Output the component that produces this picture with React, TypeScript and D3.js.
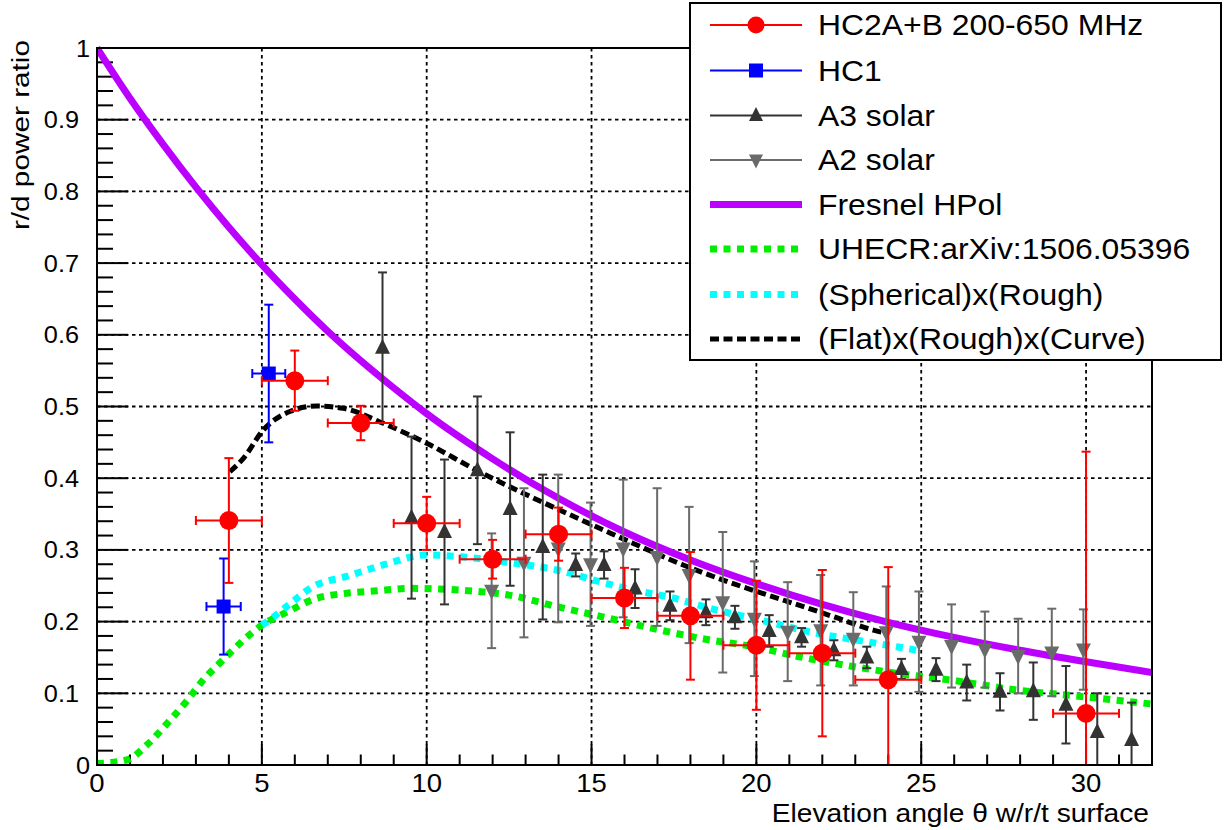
import React from "react";
import * as d3 from "d3";

// ---------- data ----------
const hc2X = [4, 6, 8, 10, 12, 14, 16, 18, 20, 22, 24, 30];
const hc2Y = [0.341, 0.536, 0.477, 0.337, 0.287, 0.322, 0.233, 0.208, 0.167, 0.156, 0.119, 0.072];
const hc2ErrY = [0.087, 0.042, 0.024, 0.037, 0.027, 0.037, 0.042, 0.089, 0.09, 0.116, 0.157, 0.365];
const hc2ErrX = [1, 1, 1, 1, 1, 1, 1, 1, 1, 1, 1, 1];

const hc1X = [3.84, 5.21];
const hc1Y = [0.221, 0.546];
const hc1ErrY = [0.067, 0.096];
const hc1ErrX = [0.52, 0.5];

const a3X = [8.66, 9.54, 10.54, 11.54, 12.53, 13.52, 14.52, 15.38, 16.32, 17.38, 18.47, 19.35, 20.39, 21.37, 22.35, 23.35, 24.4, 25.45, 26.38, 27.39, 28.4, 29.39, 30.34, 31.38];
const a3Y = [0.582, 0.345, 0.325, 0.411, 0.357, 0.304, 0.279, 0.279, 0.246, 0.222, 0.213, 0.206, 0.187, 0.178, 0.16, 0.15, 0.134, 0.133, 0.115, 0.102, 0.103, 0.084, 0.046, 0.035];
const a3ErrY = [0.105, 0.113, 0.101, 0.103, 0.107, 0.101, 0.016, 0.019, 0.027, 0.02, 0.018, 0.016, 0.022, 0.013, 0.014, 0.015, 0.014, 0.016, 0.025, 0.026, 0.04, 0.054, 0.054, 0.052];

const a2X = [11.97, 12.95, 13.99, 14.97, 15.96, 16.99, 17.96, 18.98, 19.94, 20.95, 21.95, 22.94, 23.94, 24.93, 25.92, 26.93, 27.94, 28.96, 29.92];
const a2Y = [0.243, 0.282, 0.302, 0.28, 0.302, 0.29, 0.265, 0.227, 0.204, 0.186, 0.188, 0.176, 0.185, 0.172, 0.166, 0.161, 0.152, 0.157, 0.161];
const a2ErrY = [0.08, 0.104, 0.103, 0.086, 0.096, 0.096, 0.095, 0.098, 0.08, 0.069, 0.077, 0.065, 0.064, 0.07, 0.058, 0.053, 0.052, 0.061, 0.056];

const fresnelX = [0, 1, 2, 3, 4, 5, 6, 7, 8, 9, 10, 12, 14, 16, 18, 20, 22, 24, 26, 28, 30, 32];
const fresnelY = [1, 0.93, 0.866, 0.806, 0.75, 0.698, 0.65, 0.605, 0.564, 0.526, 0.49, 0.427, 0.372, 0.325, 0.286, 0.253, 0.224, 0.199, 0.178, 0.16, 0.144, 0.129];

const uhecrX = [0, 0.9, 1.56, 2.13, 2.7, 3.22, 3.81, 4.44, 5.0, 5.8, 6.56, 7.57, 8.5, 9.5, 11.0, 12.73, 13.94, 15.3, 17.1, 18.3, 19.9, 21.3, 22.84, 24.25, 25.87, 27.89, 29.92, 32];
const uhecrY = [0.002, 0.007, 0.03, 0.058, 0.088, 0.1185, 0.146, 0.174, 0.195, 0.214, 0.231, 0.2395, 0.243, 0.2464, 0.244, 0.235, 0.221, 0.207, 0.188, 0.1767, 0.165, 0.151, 0.138, 0.128, 0.1186, 0.1046, 0.0953, 0.085];

const sphX = [5.0, 5.3, 5.75, 6.56, 7.57, 8.68, 10.0, 11.0, 12.73, 13.94, 15.3, 16.27, 17.28, 18.8, 20.31, 21.83, 23.34, 24.25, 25.0];
const sphY = [0.195, 0.2046, 0.221, 0.249, 0.263, 0.279, 0.293, 0.2905, 0.281, 0.272, 0.255, 0.244, 0.235, 0.216, 0.2, 0.1837, 0.172, 0.165, 0.159];

const flatX = [4.03, 4.44, 5.04, 5.85, 6.66, 7.47, 8.68, 10.0, 11.52, 12.93, 14.25, 15.4, 16.27, 17.78, 19.3, 20.82, 22.33, 23.55, 24.0];
const flatY = [0.409, 0.4277, 0.467, 0.493, 0.5007, 0.4975, 0.4766, 0.4487, 0.411, 0.379, 0.351, 0.327, 0.309, 0.279, 0.253, 0.23, 0.207, 0.188, 0.183];

const xMajorTicks = [0, 5, 10, 15, 20, 25, 30];
const yMajorTicks = [0, 0.1, 0.2, 0.3, 0.4, 0.5, 0.6, 0.7, 0.8, 0.9, 1];
const yTickLabels = ["0", "0.1", "0.2", "0.3", "0.4", "0.5", "0.6", "0.7", "0.8", "0.9", "1"];

const legendLabels = [
  "HC2A+B 200-650 MHz",
  "HC1",
  "A3 solar",
  "A2 solar",
  "Fresnel HPol",
  "UHECR:arXiv:1506.05396",
  "(Spherical)x(Rough)",
  "(Flat)x(Rough)x(Curve)",
];

// ---------- layout ----------
const W = 1225, H = 830;
const L = 97, R = 1152, T = 48, B = 765;
const FONT = "'Liberation Sans', Arial, Helvetica, sans-serif";
const SX = 1.1;

const C_RED = "#ff0000";
const C_BLUE = "#0000ff";
const C_A3 = "#333333";
const C_A2 = "#6a6a6a";
const C_PURPLE = "#bb00ff";
const C_GREEN = "#00ee00";
const C_CYAN = "#00ffff";

const x = d3.scaleLinear().domain([0, 32]).range([L, R]);
const y = d3.scaleLinear().domain([0, 1]).range([B, T]);

const lineGen = (xs: number[], ys: number[]) =>
  d3.line<number>().x((_, i) => x(xs[i])).y((_, i) => y(ys[i])).curve(d3.curveMonotoneX)(xs) || "";

const triUp = (cx: number, cy: number, s: number) =>
  `M${cx},${cy - s * 0.6}L${cx + s / 2},${cy + s * 0.4}L${cx - s / 2},${cy + s * 0.4}Z`;
const triDown = (cx: number, cy: number, s: number) =>
  `M${cx},${cy + s * 0.6}L${cx + s / 2},${cy - s * 0.4}L${cx - s / 2},${cy - s * 0.4}Z`;

function ErrBars({ xs, ys, ey, ex, color, cap }: { xs: number[]; ys: number[]; ey: number[]; ex?: number[]; color: string; cap: number }) {
  return (
    <g stroke={color} strokeWidth={2} fill="none">
      {xs.map((xv, i) => {
        const px = x(xv);
        const top = y(ys[i] + ey[i]);
        const bot = y(Math.max(0, ys[i] - ey[i]));
        const botClipped = ys[i] - ey[i] < 0;
        return (
          <g key={i}>
            <line x1={px} x2={px} y1={top} y2={bot} />
            <line x1={px - cap} x2={px + cap} y1={top} y2={top} />
            {!botClipped && <line x1={px - cap} x2={px + cap} y1={bot} y2={bot} />}
            {ex && (
              <>
                <line x1={x(xv - ex[i])} x2={x(xv + ex[i])} y1={y(ys[i])} y2={y(ys[i])} />
                <line x1={x(xv - ex[i])} x2={x(xv - ex[i])} y1={y(ys[i]) - cap} y2={y(ys[i]) + cap} />
                <line x1={x(xv + ex[i])} x2={x(xv + ex[i])} y1={y(ys[i]) - cap} y2={y(ys[i]) + cap} />
              </>
            )}
          </g>
        );
      })}
    </g>
  );
}

function Txt({ px, py, anchor, size, children, rotate, sx }: any) {
  const s = sx ?? SX;
  const tr = rotate ? `translate(${px},${py}) rotate(-90) scale(${s},1)` : `translate(${px},${py}) scale(${s},1)`;
  return (
    <text transform={tr} textAnchor={anchor} fontSize={size} fontFamily={FONT} fill="#000">
      {children}
    </text>
  );
}

export default function App() {
  const xMinor = d3.range(0, 33, 1);
  const yMinor = d3.range(0, 101, 2).map((v) => v / 100);
  const legRowY = [25, 70.5, 115.5, 160, 204.5, 249, 294.5, 339];
  const legLineX1 = 710, legLineX2 = 802, legMarkX = 756, legTextX = 818;

  return (
    <svg width={W} height={H} style={{ position: "absolute", left: 0, top: 0, background: "#fff" }}>
      <defs>
        <clipPath id="plotClip">
          <rect x={L} y={T - 2} width={R - L} height={B - T + 2} />
        </clipPath>
      </defs>
      <rect x={0} y={0} width={W} height={H} fill="#fff" />

      {/* grid */}
      <g stroke="#000" strokeWidth={1.8} strokeDasharray="3.5,3.5">
        {xMajorTicks.filter((v) => v > 0).map((v) => (
          <line key={"gx" + v} x1={x(v)} x2={x(v)} y1={T} y2={B} />
        ))}
        {yMajorTicks.filter((v) => v > 0 && v < 1).map((v) => (
          <line key={"gy" + v} x1={L} x2={R} y1={y(v)} y2={y(v)} />
        ))}
      </g>

      {/* ticks */}
      <g stroke="#000" strokeWidth={2}>
        {yMinor.map((v, i) => {
          const major = Math.abs(v * 10 - Math.round(v * 10)) < 1e-6;
          return <line key={"ty" + i} x1={L} x2={L + (major ? 31 : 16)} y1={y(v)} y2={y(v)} />;
        })}
        {xMinor.map((v) => {
          const major = v % 5 === 0;
          return <line key={"tx" + v} x1={x(v)} x2={x(v)} y1={B} y2={B - (major ? 21 : 10.5)} />;
        })}
      </g>

      {/* curves */}
      <g clipPath="url(#plotClip)" fill="none">
        <path d={lineGen(fresnelX, fresnelY)} stroke={C_PURPLE} strokeWidth={7} />
        <path d={lineGen(uhecrX, uhecrY)} stroke={C_GREEN} strokeWidth={7} strokeDasharray="7,6.5" />
        <path d={lineGen(sphX, sphY)} stroke={C_CYAN} strokeWidth={7} strokeDasharray="7,6.5" />
        <path d={lineGen(flatX, flatY)} stroke="#000" strokeWidth={5} strokeDasharray="9,4.5" />
      </g>

      {/* data */}
      <g clipPath="url(#plotClip)">
        <ErrBars xs={a2X} ys={a2Y} ey={a2ErrY} color={C_A2} cap={4.5} />
        {a2X.map((v, i) => (
          <path key={"a2" + i} d={triDown(x(v), y(a2Y[i]), 15)} fill={C_A2} />
        ))}
        <ErrBars xs={a3X} ys={a3Y} ey={a3ErrY} color={C_A3} cap={4.5} />
        {a3X.map((v, i) => (
          <path key={"a3" + i} d={triUp(x(v), y(a3Y[i]), 15)} fill={C_A3} />
        ))}
        <ErrBars xs={hc1X} ys={hc1Y} ey={hc1ErrY} ex={hc1ErrX} color={C_BLUE} cap={4.5} />
        {hc1X.map((v, i) => (
          <rect key={"hc1" + i} x={x(v) - 7} y={y(hc1Y[i]) - 7} width={14} height={14} fill={C_BLUE} />
        ))}
        <ErrBars xs={hc2X} ys={hc2Y} ey={hc2ErrY} ex={hc2ErrX} color={C_RED} cap={4.5} />
        {hc2X.map((v, i) => (
          <circle key={"hc2" + i} cx={x(v)} cy={y(hc2Y[i])} r={9.5} fill={C_RED} />
        ))}
      </g>

      {/* frame */}
      <rect x={L} y={T} width={R - L} height={B - T} fill="none" stroke="#000" strokeWidth={2} />

      {/* axis labels */}
      {yMajorTicks.map((v, i) => {
        const isInt = yTickLabels[i].length === 1;
        return (
          <Txt key={"yl" + i} px={isInt ? 90 : 79} py={y(v) + 8.5} anchor="end" size={23}>
            {yTickLabels[i]}
          </Txt>
        );
      })}
      {xMajorTicks.map((v) => (
        <Txt key={"xl" + v} px={x(v)} py={792} anchor="middle" size={25}>
          {String(v)}
        </Txt>
      ))}
      <Txt px={1149} py={822} anchor="end" size={25.6}>
        Elevation angle θ w/r/t surface
      </Txt>
      <Txt px={29} py={40} anchor="end" size={24} sx={1.24} rotate>
        r/d power ratio
      </Txt>

      {/* legend */}
      <rect x={690} y={3} width={531} height={357} fill="#fff" stroke="#000" strokeWidth={2} />
      {legendLabels.map((lab, i) => {
        const cy = legRowY[i];
        let sym: React.ReactNode = null;
        if (i === 0)
          sym = (
            <>
              <line x1={legLineX1} x2={legLineX2} y1={cy} y2={cy} stroke={C_RED} strokeWidth={2} />
              <circle cx={legMarkX} cy={cy} r={8.5} fill={C_RED} />
            </>
          );
        else if (i === 1)
          sym = (
            <>
              <line x1={legLineX1} x2={legLineX2} y1={cy} y2={cy} stroke={C_BLUE} strokeWidth={2} />
              <rect x={legMarkX - 7} y={cy - 7} width={14} height={14} fill={C_BLUE} />
            </>
          );
        else if (i === 2)
          sym = (
            <>
              <line x1={legLineX1} x2={legLineX2} y1={cy} y2={cy} stroke={C_A3} strokeWidth={2} />
              <path d={triUp(legMarkX, cy, 14)} fill={C_A3} />
            </>
          );
        else if (i === 3)
          sym = (
            <>
              <line x1={legLineX1} x2={legLineX2} y1={cy} y2={cy} stroke={C_A2} strokeWidth={2} />
              <path d={triDown(legMarkX, cy, 14)} fill={C_A2} />
            </>
          );
        else if (i === 4)
          sym = <line x1={legLineX1} x2={legLineX2} y1={cy} y2={cy} stroke={C_PURPLE} strokeWidth={7} />;
        else if (i === 5)
          sym = <line x1={legLineX1} x2={legLineX2} y1={cy} y2={cy} stroke={C_GREEN} strokeWidth={7} strokeDasharray="7,6.5" />;
        else if (i === 6)
          sym = <line x1={legLineX1} x2={legLineX2} y1={cy} y2={cy} stroke={C_CYAN} strokeWidth={7} strokeDasharray="7,6.5" />;
        else
          sym = <line x1={legLineX1} x2={legLineX2} y1={cy} y2={cy} stroke="#000" strokeWidth={5} strokeDasharray="9,4.5" />;
        return (
          <g key={"leg" + i}>
            {sym}
            <Txt px={legTextX} py={cy + 10} anchor="start" size={29}>
              {lab}
            </Txt>
          </g>
        );
      })}
    </svg>
  );
}
